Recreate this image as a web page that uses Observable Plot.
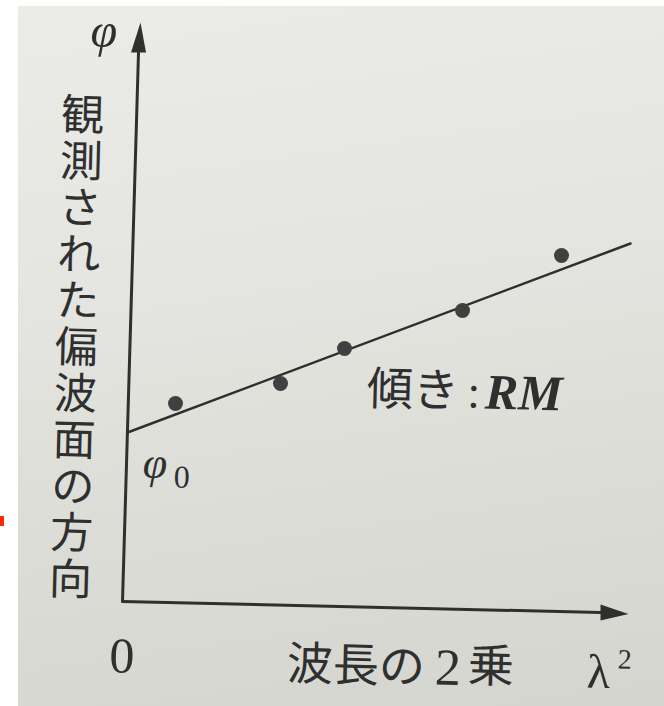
<!DOCTYPE html>
<html>
<head>
<meta charset="utf-8">
<script src="https://cdn.jsdelivr.net/npm/d3@7"></script>
<script src="https://cdn.jsdelivr.net/npm/@observablehq/plot@0.6"></script>
<style>
  html, body { margin: 0; padding: 0; background: #ffffff; }
  #wrap { position: relative; width: 664px; height: 706px; overflow: hidden; background: #ffffff; }
  #photo { position: absolute; left: 18px; top: 6px; width: 646px; height: 700px;
    background: linear-gradient(172deg, #ebebe8 0%, #e4e4e0 40%, #dbdbd5 75%, #d5d5cf 100%); }
  #chart { position: absolute; left: 0; top: 0; }
  #mark { position: absolute; left: 0; top: 516px; width: 4px; height: 10px; background: #ff2a00; }
</style>
</head>
<body>
<div id="wrap">
  <div id="photo"></div>
  <div id="chart"></div>
  <div id="mark"></div>
</div>
<script>
// Observations: λ² (x) and observed polarisation angle φ (y), arbitrary units
const lambda2 = [1.06, 3.16, 4.44, 6.80, 8.78];
const phi     = [3.96, 4.36, 5.06, 5.82, 6.92];

// Fitted line (intercept φ0, slope RM)
const fitX = [0.10, 10.16];
const fitY = [3.38, 7.16];

// Axis lines (the printed page is slightly rotated in the photo)
const yAxisX = [0, 0.32];
const yAxisY = [0, 10.98];
const xAxisX = [0, 9.56];
const xAxisY = [0, -0.22];

// Labels
const yAxisLabel = "観測された偏波面の方向";
const xAxisLabelParts = ["波長の", "2", "乗"];
const slopeLabel = "傾き";
const slopeSymbol = "RM";

const points = lambda2.map((x, i) => ({x, y: phi[i]}));
const fit = fitX.map((x, i) => ({x, y: fitY[i]}));
const yAxis = yAxisX.map((x, i) => ({x, y: yAxisY[i]}));
const xAxis = xAxisX.map((x, i) => ({x, y: xAxisY[i]}));

const ink = "#2f2f2f";
const serif = "'Liberation Serif', 'DejaVu Serif', serif";
const jp = "'Noto Sans CJK JP', 'Noto Sans CJK SC', sans-serif";

const arrowUp = { draw(c) { c.moveTo(2, -30); c.lineTo(7.5, 0); c.lineTo(-7.5, 0); c.closePath(); } };
const arrowRight = { draw(c) { c.moveTo(28, 1.5); c.lineTo(0, 8); c.lineTo(0, -8); c.closePath(); } };

const label = (t, x, y, o) => Plot.text([t], { x: () => x, y: () => y, fill: ink, lineAnchor: "bottom", rotate: 1.5, ...o });

const chart = Plot.plot({
  width: 664,
  height: 706,
  margin: 0,
  x: { domain: [-2.44, 10.84], axis: null },
  y: { domain: [-2.1, 12.02], axis: null },
  style: { background: "transparent", overflow: "visible" },
  marks: [
    Plot.line(yAxis, { x: "x", y: "y", stroke: ink, strokeWidth: 3 }),
    Plot.line(xAxis, { x: "x", y: "y", stroke: ink, strokeWidth: 3 }),
    Plot.dot([yAxis[1]], { x: "x", y: "y", symbol: arrowUp, fill: ink, stroke: "none" }),
    Plot.dot([xAxis[1]], { x: "x", y: "y", symbol: arrowRight, fill: ink, stroke: "none" }),
    Plot.line(fit, { x: "x", y: "y", stroke: ink, strokeWidth: 2.5 }),
    Plot.dot(points, { x: "x", y: "y", r: 7.5, fill: "#404040", stroke: "none" }),
    // φ axis symbol
    label("φ", -0.38, 11.1, { fontFamily: serif, fontStyle: "italic", fontSize: 48, textAnchor: "middle" }),
    // vertical Japanese axis label
    Plot.text([yAxisLabel.split("").join("\n")], { x: () => -0.92, y: () => 5.08, fontFamily: jp, fontSize: 43, lineHeight: 1.08, fill: ink, textAnchor: "middle", lineAnchor: "middle", rotate: 1.5 }),
    // φ0
    label("φ", 0.4, 2.48, { fontFamily: serif, fontStyle: "italic", fontSize: 44, textAnchor: "start" }),
    label("0", 1.02, 2.28, { fontFamily: serif, fontSize: 32, textAnchor: "start" }),
    // slope label
    label(slopeLabel, 4.88, 3.94, { fontFamily: jp, fontSize: 46, textAnchor: "start" }),
    label(":", 7.02, 3.88, { fontFamily: serif, fontSize: 46, textAnchor: "middle" }),
    label(slopeSymbol, 7.24, 3.86, { fontFamily: serif, fontStyle: "italic", fontWeight: "bold", fontSize: 50, textAnchor: "start" }),
    // origin
    label("0", -0.02, -1.42, { fontFamily: serif, fontSize: 50, textAnchor: "middle" }),
    // x label
    label(xAxisLabelParts[0], 3.28, -1.56, { fontFamily: jp, fontSize: 46, textAnchor: "start" }),
    label(xAxisLabelParts[1], 6.24, -1.66, { fontFamily: serif, fontSize: 52, textAnchor: "start" }),
    label(xAxisLabelParts[2], 6.9, -1.6, { fontFamily: jp, fontSize: 46, textAnchor: "start" }),
    label("λ", 9.28, -1.72, { fontFamily: serif, fontSize: 48, textAnchor: "start" }),
    label("2", 9.9, -1.34, { fontFamily: serif, fontSize: 28, textAnchor: "start" })
  ]
});
document.getElementById("chart").appendChild(chart);
</script>
</body>
</html>
